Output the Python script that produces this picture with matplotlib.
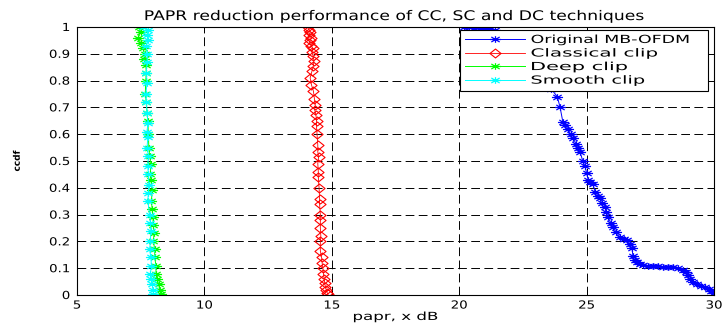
import matplotlib
matplotlib.use("Agg")
import matplotlib.pyplot as plt
import matplotlib.patheffects as pe
from matplotlib.path import Path
from matplotlib.transforms import Affine2D

# ---- data ----
orig_x = [20.2, 20.4, 20.6, 20.8, 21.0, 21.2, 21.4, 21.7, 22.1, 22.5, 22.9, 23.3, 23.6, 23.85,
          23.96, 24.07, 24.15, 24.27, 24.37, 24.47, 24.58, 24.66, 24.74, 24.85, 24.94, 25.0,
          25.06, 25.15, 25.25, 25.33, 25.45, 25.53, 25.62, 25.72, 25.78, 25.84, 25.95, 26.04,
          26.15, 26.31, 26.45, 26.59, 26.7, 26.78, 26.82, 26.9, 26.98, 27.1, 27.21, 27.4, 27.6,
          27.8, 28.0, 28.2, 28.4, 28.6, 28.78, 28.9, 28.98, 29.05, 29.18, 29.35, 29.5, 29.65,
          29.8, 29.9, 30.0]
orig_y = [1.0, 1.0, 0.998, 0.997, 0.995, 0.992, 0.988, 0.975, 0.95, 0.91, 0.86, 0.81, 0.77, 0.74,
          0.70, 0.645, 0.635, 0.62, 0.60, 0.585, 0.565, 0.55, 0.535, 0.50, 0.48, 0.455,
          0.43, 0.42, 0.415, 0.385, 0.37, 0.362, 0.345, 0.33, 0.31, 0.29, 0.27, 0.255,
          0.235, 0.217, 0.21, 0.205, 0.19, 0.175, 0.145, 0.13, 0.122, 0.115, 0.112, 0.11, 0.108,
          0.107, 0.106, 0.105, 0.104, 0.10, 0.093, 0.085, 0.075, 0.06, 0.048, 0.04, 0.034, 0.028,
          0.022, 0.015, 0.008]

cc_x = [14.05, 14.1, 14.15, 14.1, 14.2, 14.15, 14.12, 14.2, 14.25, 14.22, 14.27, 14.3, 14.28,
        14.22, 14.15, 14.2, 14.28, 14.32, 14.35, 14.33, 14.38, 14.4, 14.4, 14.42, 14.45, 14.45,
        14.48, 14.45, 14.47, 14.47, 14.5, 14.52, 14.52, 14.55, 14.55, 14.55, 14.57, 14.55,
        14.55, 14.6, 14.62, 14.65, 14.67, 14.7, 14.72, 14.75, 14.78, 14.82, 14.85]
cc_y = [1.0, 0.99, 0.98, 0.97, 0.96, 0.95, 0.94, 0.93, 0.92, 0.905, 0.89, 0.875, 0.855,
        0.835, 0.81, 0.785, 0.76, 0.73, 0.71, 0.69, 0.67, 0.65, 0.63, 0.60, 0.56, 0.535,
        0.515, 0.49, 0.46, 0.44, 0.40, 0.36, 0.34, 0.30, 0.28, 0.25, 0.22, 0.20,
        0.165, 0.14, 0.12, 0.10, 0.08, 0.06, 0.045, 0.03, 0.02, 0.008, 0.002]

dc_x = [7.45, 7.5, 7.4, 7.5, 7.6, 7.65, 7.62, 7.7, 7.72, 7.7, 7.68, 7.72, 7.75, 7.78, 7.8,
        7.82, 7.85, 7.9, 7.88, 7.9, 7.95, 7.92, 7.95, 7.98, 8.0, 8.02, 8.0, 8.05, 8.05, 8.1,
        8.1, 8.15, 8.2, 8.25, 8.3]
dc_y = [1.0, 0.98, 0.96, 0.94, 0.92, 0.90, 0.88, 0.86, 0.83, 0.80, 0.75, 0.72, 0.68, 0.65, 0.60,
        0.55, 0.52, 0.49, 0.45, 0.43, 0.39, 0.35, 0.32, 0.29, 0.26, 0.23, 0.20, 0.17, 0.14, 0.11,
        0.08, 0.06, 0.04, 0.02, 0.005]

sc_x = [7.6, 7.8, 7.75, 7.8, 7.72, 7.75, 7.75, 7.72, 7.75, 7.7, 7.72, 7.75, 7.78, 7.75, 7.78,
        7.75, 7.8, 7.78, 7.8, 7.82, 7.8, 7.78, 7.85, 7.88, 7.9, 7.88, 7.85, 7.9, 7.92, 7.88,
        7.9, 7.95, 7.98, 8.0]
sc_y = [1.0, 0.99, 0.97, 0.95, 0.93, 0.90, 0.87, 0.83, 0.79, 0.75, 0.72, 0.68, 0.64, 0.61, 0.59,
        0.55, 0.52, 0.48, 0.45, 0.41, 0.38, 0.35, 0.30, 0.27, 0.24, 0.20, 0.17, 0.14, 0.11, 0.08,
        0.06, 0.04, 0.02, 0.005]

labels = ["Original MB-OFDM", "Classical clip", "Deep clip", "Smooth clip"]
x_ticks = [5, 10, 15, 20, 25, 30]
y_ticks = [0, 0.1, 0.2, 0.3, 0.4, 0.5, 0.6, 0.7, 0.8, 0.9, 1]
y_tick_labels = ["0", "0.1", "0.2", "0.3", "0.4", "0.5", "0.6", "0.7", "0.8", "0.9", "1"]


class HStretch(pe.AbstractPathEffect):
    """Stretch text glyphs along the text direction (the reference image is stretched)."""
    def __init__(self, sx, anchor="center"):
        super().__init__()
        self.sx = sx
        self.anchor = anchor

    def draw_path(self, renderer, gc, tpath, affine, rgbFace=None):
        ext = tpath.get_extents()
        if self.anchor == "left":
            cx = ext.x0
        elif self.anchor == "right":
            cx = ext.x1
        else:
            cx = 0.5 * (ext.x0 + ext.x1)
        t = Affine2D().translate(-cx, 0).scale(self.sx, 1).translate(cx, 0) + affine
        renderer.draw_path(gc, tpath, t, rgbFace)


# asterisk marker / diamond (horizontally stretched, like the reference)
M, L = Path.MOVETO, Path.LINETO
ast = Path([(-1, 0), (1, 0), (0, -0.6), (0, 0.6), (-0.75, -0.45), (0.75, 0.45),
            (-0.75, 0.45), (0.75, -0.45)], [M, L, M, L, M, L, M, L])
dia = Path([(-1, 0), (0, 0.8), (1, 0), (0, -0.8), (-1, 0)], [M, L, L, L, Path.CLOSEPOLY])

plt.rcParams['font.family'] = ['DejaVu Sans']
plt.rcParams['font.size'] = 8

fig = plt.figure(figsize=(7.24, 3.24), dpi=100)
ax = fig.add_axes([77/724, 29/324, (714-77)/724, (295-27)/324])

ax.plot(orig_x, orig_y, color='#0000ff', marker=ast, markersize=8, mew=0.9, lw=0.7, label=labels[0])
ax.plot(cc_x, cc_y, color='#ff0000', marker=dia, markersize=8, mfc='none', mew=0.8, lw=0.6, label=labels[1])
ax.plot(dc_x, dc_y, color='#00ff00', marker=ast, markersize=8, mew=0.9, lw=0.7, label=labels[2])
ax.plot(sc_x, sc_y, color='#00ffff', marker=ast, markersize=8, mew=0.9, lw=0.7, label=labels[3])

ax.set_xlim(5, 30)
ax.set_ylim(0, 1)
ax.set_xticks(x_ticks)
ax.set_yticks(y_ticks)
ax.set_yticklabels(y_tick_labels)
ax.tick_params(axis='y', pad=5)
ax.tick_params(axis='x', pad=4)
ax.tick_params(direction='in', top=True, right=True, length=4, width=0.6)
ax.grid(True, color='black', linestyle=(0, (9, 4.5)), linewidth=0.7)
for s in ax.spines.values():
    s.set_linewidth(0.8)

title = ax.set_title("PAPR reduction performance of CC, SC and DC techniques", pad=5)
xlab = ax.set_xlabel("papr, x dB", labelpad=1)
ylab = ax.set_ylabel("ccdf", labelpad=22, fontsize=6.5, fontweight='bold')

leg = ax.legend(loc='upper left', bbox_to_anchor=(0.601, 0.754, 0.3896, 0.235), mode='expand',
                fancybox=False, framealpha=1, edgecolor='black', borderpad=0.45,
                labelspacing=0.32, handlelength=5.4, handletextpad=0.55, borderaxespad=0.0,
                numpoints=1)
leg.get_frame().set_linewidth(0.8)

# stretch texts to the widths measured on the reference
fig.canvas.draw()
r = fig.canvas.get_renderer()


def stretch(t, target_px, anchor="center", vertical=False):
    bb = t.get_window_extent(r)
    w = bb.height if vertical else bb.width
    if w > 0:
        t.set_path_effects([HStretch(target_px / w, anchor)])


stretch(title, 504)
stretch(xlab, 86)
stretch(ylab, 21, vertical=True)
for t in ax.get_xticklabels():
    t.set_path_effects([HStretch(1.2, "center")])
for t in ax.get_yticklabels():
    t.set_path_effects([HStretch(1.2, "right")])
leg_targets = [160, 128, 98, 115]
for t, w in zip(leg.get_texts(), leg_targets):
    stretch(t, w, anchor="left")

fig.savefig("out.png", dpi=100)
